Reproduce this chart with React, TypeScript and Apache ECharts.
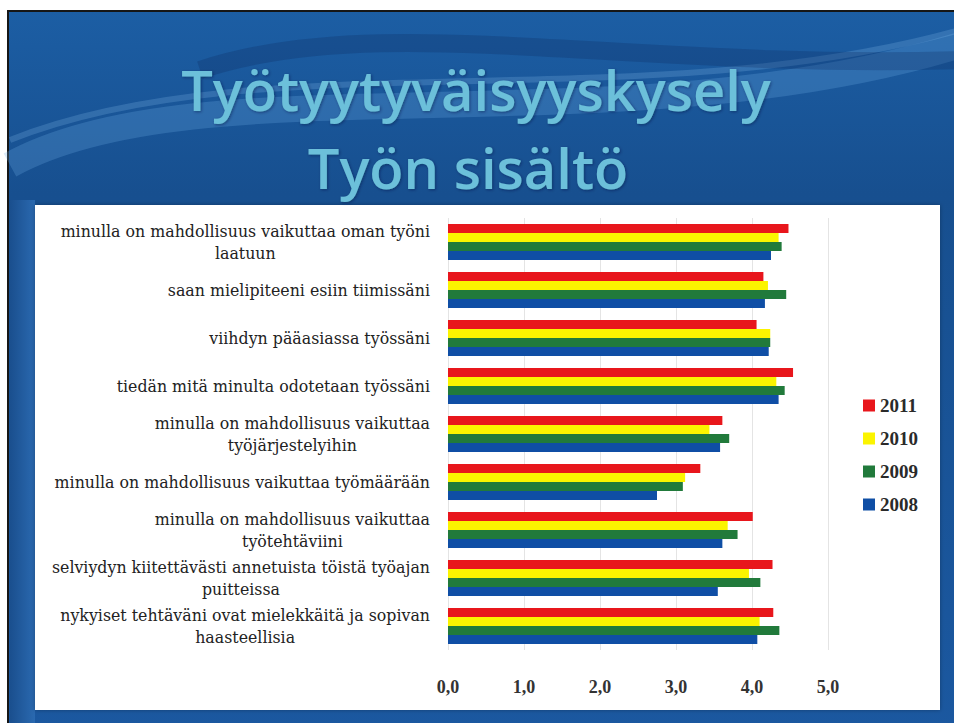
import React, { useEffect, useRef } from "react";
import * as echarts from "echarts";

const categories = [
  "minulla on mahdollisuus vaikuttaa oman työni\nlaatuun",
  "saan mielipiteeni esiin tiimissäni",
  "viihdyn pääasiassa työssäni",
  "tiedän mitä minulta odotetaan työssäni",
  "minulla on mahdollisuus vaikuttaa\ntyöjärjestelyihin",
  "minulla on mahdollisuus vaikuttaa työmäärään",
  "minulla on mahdollisuus vaikuttaa\ntyötehtäviini",
  "selviydyn kiitettävästi annetuista töistä työajan\npuitteissa",
  "nykyiset tehtäväni ovat mielekkäitä ja sopivan\nhaasteellisia",
];

const years = ["2011", "2010", "2009", "2008"];
const s2011 = [4.48, 4.15, 4.06, 4.54, 3.61, 3.32, 4.01, 4.27, 4.28];
const s2010 = [4.35, 4.21, 4.24, 4.32, 3.44, 3.12, 3.68, 3.96, 4.1];
const s2009 = [4.39, 4.45, 4.24, 4.43, 3.7, 3.09, 3.81, 4.11, 4.36];
const s2008 = [4.25, 4.17, 4.22, 4.35, 3.58, 2.75, 3.61, 3.55, 4.07];
const colors = ["#e8161c", "#fbf400", "#217a3b", "#0f4ea5"];

const titleLine1 = "Työtyytyväisyyskysely";
const titleLine2 = "Työn sisältö";

const SERIF = "'DejaVu Serif', 'Liberation Serif', serif";
const SERIF_B = "'Liberation Serif', 'DejaVu Serif', serif";

export default function App() {
  const ref = useRef<HTMLDivElement>(null);
  useEffect(() => {
    if (!ref.current) return;
    const chart = echarts.init(ref.current, undefined, { renderer: "svg" });
    const seriesData = [s2011, s2010, s2009, s2008];
    const titleStyle = {
      fontFamily: "'Open Sans', sans-serif",
      fontSize: 56,
      fontWeight: 600,
      fill: "#6cc0da",
      textAlign: "center",
      align: "center",
      textVerticalAlign: "middle",
      verticalAlign: "middle",
      textShadowColor: "rgba(0,20,60,0.45)",
      textShadowBlur: 3,
      textShadowOffsetX: 1,
      textShadowOffsetY: 1,
    };
    chart.setOption({
      animation: false,
      backgroundColor: "#ffffff",
      graphic: [
        {
          type: "rect",
          z: 0,
          shape: { x: 8, y: 11, width: 960, height: 730 },
          style: {
            fill: new echarts.graphic.LinearGradient(0, 0, 0, 1, [
              { offset: 0, color: "#1c5ea4" },
              { offset: 0.25, color: "#174f8f" },
              { offset: 1, color: "#1b58a0" },
            ]),
            stroke: "#161616",
            lineWidth: 2,
          },
        },
        {
          type: "rect",
          z: 0,
          shape: { x: 10, y: 200, width: 25, height: 530 },
          style: {
            fill: new echarts.graphic.LinearGradient(0, 0, 1, 0, [
              { offset: 0, color: "#1a4f8e" },
              { offset: 1, color: "#2a69b0" },
            ]),
          },
        },
        {
          type: "bezierCurve",
          z: 0,
          shape: { x1: 10, y1: 165, cpx1: 200, cpy1: 60, cpx2: 620, cpy2: 150, x2: 960, y2: 45 },
          style: { stroke: "rgba(110,175,230,0.25)", lineWidth: 26, fill: "none" },
        },
        {
          type: "bezierCurve",
          z: 0,
          shape: { x1: 10, y1: 140, cpx1: 260, cpy1: 40, cpx2: 640, cpy2: 120, x2: 960, y2: 30 },
          style: { stroke: "rgba(140,195,240,0.22)", lineWidth: 6, fill: "none" },
        },
        {
          type: "bezierCurve",
          z: 0,
          shape: { x1: 200, y1: 70, cpx1: 380, cpy1: 10, cpx2: 620, cpy2: 70, x2: 960, y2: 60 },
          style: { stroke: "rgba(10,40,90,0.25)", lineWidth: 18, fill: "none" },
        },
        {
          type: "rect",
          z: 0,
          shape: { x: 35, y: 205, width: 905, height: 505 },
          style: { fill: "#ffffff", shadowBlur: 4, shadowColor: "rgba(0,0,0,0.3)" },
        },
        {
          type: "text",
          z: 1,
          x: 476,
          y: 89,
          style: { ...titleStyle, text: titleLine1 },
        },
        {
          type: "text",
          z: 1,
          x: 468,
          y: 167,
          style: { ...titleStyle, text: titleLine2 },
        },
      ],
      legend: {
        orient: "vertical",
        left: 858,
        top: 391,
        data: years,
        icon: "rect",
        itemWidth: 12,
        itemHeight: 12,
        itemGap: 14,
        textStyle: {
          fontFamily: SERIF_B,
          fontSize: 19,
          fontWeight: "bold",
          color: "#2a2a2a",
        },
      },
      grid: { left: 448, right: 126, top: 218, bottom: 73, containLabel: false },
      xAxis: {
        type: "value",
        z: 1,
        min: 0,
        max: 5,
        interval: 1,
        axisLine: { show: false },
        axisTick: { show: false },
        splitLine: { show: true, lineStyle: { color: "#e4e4e4", width: 1 } },
        axisLabel: {
          margin: 28,
          fontFamily: SERIF_B,
          fontSize: 18,
          fontWeight: "bold",
          color: "#333333",
          formatter: (v: number) => v.toFixed(1).replace(".", ","),
        },
      },
      yAxis: {
        type: "category",
        z: 1,
        inverse: true,
        data: categories,
        axisLine: { show: false },
        axisTick: { show: false },
        axisLabel: {
          margin: 18,
          formatter: (v: string) =>
            v
              .split("\n")
              .map((l) => `{c|${l}}`)
              .join("\n"),
          rich: {
            c: {
              align: "center",
              fontFamily: SERIF,
              fontSize: 15.8,
              lineHeight: 22,
              color: "#222222",
            },
          },
        },
      },
      series: years.map((y, i) => ({
        name: y,
        type: "bar",
        data: seriesData[i],
        barGap: "0%",
        barCategoryGap: "25%",
        itemStyle: { color: colors[i] },
      })),
    });
    return () => chart.dispose();
  }, []);
  return (
    <div
      ref={ref}
      style={{ position: "fixed", left: 0, top: 0, width: 954, height: 723 }}
    />
  );
}
